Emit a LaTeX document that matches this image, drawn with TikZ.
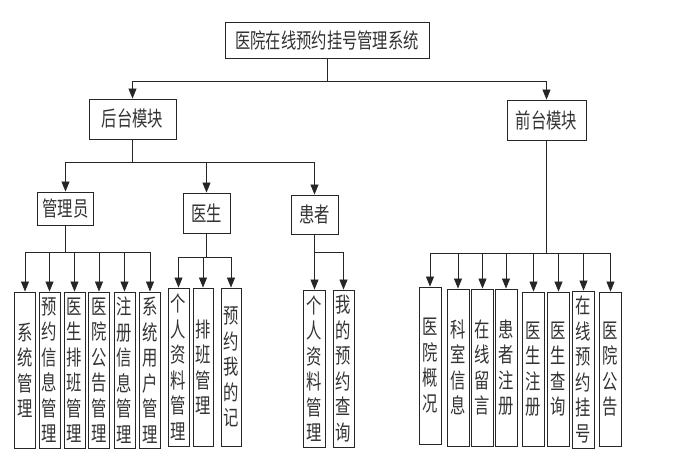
\documentclass[tikz,border=0pt]{standalone}
\usepackage{fontspec}
\setmainfont{Noto Sans CJK SC}[FakeStretch=0.73]
\usetikzlibrary{arrows.meta}
\tikzset{
  box/.style={draw=black!85, line width=0.9pt, inner sep=0pt, align=center, text=black!80,
    font=\fontsize{21}{25}\selectfont},
  vbox/.style={box, minimum height=156pt, font=\fontsize{21}{25.5}\selectfont},
  arr/.style={draw=black!85, line width=0.8pt, -{Triangle[length=10pt,width=8pt]}},
  ln/.style={draw=black!85, line width=0.8pt}
}
\begin{document}
\begin{tikzpicture}[x=1pt,y=-1pt]
\useasboundingbox (0,0) rectangle (675,465);
% level 0 and 1
\node[box, minimum width=204pt, minimum height=36pt] (top) at (327,40) {医院在线预约挂号管理系统};
\node[box, minimum width=87pt, minimum height=40pt] (back) at (132.5,119) {后台模块};
\node[box, minimum width=79pt, minimum height=40pt] (front) at (546.5,120) {前台模块};
% level 2
\node[box, minimum width=56pt, minimum height=33pt] (mgr) at (65.5,208.5) {管理员};
\node[box, minimum width=47pt, minimum height=40pt] (doc) at (206.5,213) {医生};
\node[box, minimum width=47pt, minimum height=39pt] (pat) at (314.5,214.5) {患者};
% admin children
\node[vbox, minimum width=21pt] (a1) at (25,370) {系\\统\\管\\理};
\node[vbox, minimum width=21pt] (a2) at (49.5,370) {预\\约\\信\\息\\管\\理};
\node[vbox, minimum width=21pt] (a3) at (74.5,370) {医\\生\\排\\班\\管\\理};
\node[vbox, minimum width=21pt] (a4) at (99,370) {医\\院\\公\\告\\管\\理};
\node[vbox, minimum width=21pt] (a5) at (124.5,370) {注\\册\\信\\息\\管\\理};
\node[vbox, minimum width=21pt] (a6) at (150,370) {系\\统\\用\\户\\管\\理};
% doctor children
\node[vbox, minimum width=21pt, minimum height=158pt] (d1) at (178.5,367) {个\\人\\资\\料\\管\\理};
\node[vbox, minimum width=20pt, minimum height=158pt] (d2) at (203,367) {排\\班\\管\\理};
\node[vbox, minimum width=20pt, minimum height=158pt] (d3) at (231,367) {预\\约\\我\\的\\记};
% patient children
\node[vbox, minimum width=22pt, minimum height=157pt] (p1) at (314.5,368.5) {个\\人\\资\\料\\管\\理};
\node[vbox, minimum width=21pt, minimum height=157pt] (p2) at (343.5,368.5) {我\\的\\预\\约\\查\\询};
% front children
\node[vbox, minimum width=22pt, minimum height=157pt] (f1) at (430,365.5) {医\\院\\概\\况};
\node[vbox, minimum width=22pt, minimum height=157pt] (f2) at (458,367.5) {科\\室\\信\\息};
\node[vbox, minimum width=22pt, minimum height=157pt] (f3) at (482.5,367.5) {在\\线\\留\\言};
\node[vbox, minimum width=22pt, minimum height=157pt] (f4) at (506,367.5) {患\\者\\注\\册};
\node[vbox, minimum width=22pt, minimum height=154pt] (f5) at (533.5,369) {医\\生\\注\\册};
\node[vbox, minimum width=22pt, minimum height=154pt] (f6) at (558.5,369) {医\\生\\查\\询};
\node[vbox, minimum width=22pt, minimum height=157pt] (f7) at (583.5,369.5) {在\\线\\预\\约\\挂\\号};
\node[vbox, minimum width=22pt, minimum height=154pt] (f8) at (610.5,369) {医\\院\\公\\告};
% connectors
\draw[arr] (top.south) -- ++(0,23) -| (back.north);
\draw[arr] (top.south) -- ++(0,23) -| (front.north);
\foreach \c in {mgr,doc,pat}{\draw[arr] (back.south) -- ++(0,23) -| (\c.north);}
\foreach \c in {a1,a2,a3,a4,a5,a6}{\draw[arr] (mgr.south) -- ++(0,27) -| (\c.north);}
\foreach \c in {d1,d2,d3}{\draw[arr] (doc.south) -- ++(0,24) -| (\c.north);}
\draw[arr] (pat.south) -- (p1.north);
\draw[arr] (pat.south) -- ++(0,18) -| (p2.north);
\foreach \c in {f1,f2,f3,f4,f5,f6,f7,f8}{\draw[arr] (front.south) -- ++(0,113) -| (\c.north);}
\end{tikzpicture}
\end{document}
